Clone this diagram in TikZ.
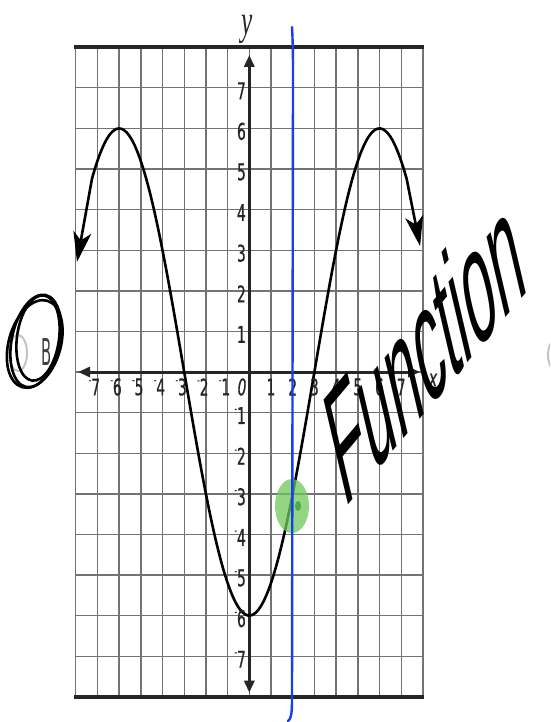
\documentclass[tikz,border=0pt]{standalone}
\usepackage{fontspec}
\usepackage{graphicx}
\usetikzlibrary{arrows.meta}
\newfontfamily\tickfont[FakeStretch=0.6,FakeBold=0.6]{DejaVu Sans}
\newfontfamily\radiofont[FakeStretch=0.4]{DejaVu Sans}
\newfontfamily\yfont[FakeStretch=0.6]{Liberation Serif}
\newfontfamily\handfont[FakeSlant=0.75,FakeStretch=0.6]{Liberation Sans}
\newcommand\nm{\raisebox{0.5em}{\scalebox{0.5}{-}}}
\definecolor{penblue}{RGB}{25,60,245}
\definecolor{blob}{RGB}{110,200,90}
\definecolor{blobdot}{RGB}{60,160,60}
\definecolor{gridc}{RGB}{115,115,115}
\definecolor{radio}{RGB}{195,195,195}
\tikzset{
  gridline/.style={draw=gridc, line width=1.4pt},
  border/.style={draw=black!85, line width=3.5pt},
  axisline/.style={draw=black!85, line width=3pt, {Triangle[length=12pt,width=10pt]}-{Triangle[length=12pt,width=10pt]}},
  curveline/.style={draw=black, line width=2.6pt, {Stealth[length=30pt,width=18pt,inset=8pt]}-{Stealth[length=30pt,width=18pt,inset=8pt]}},
  ticklab/.style={font=\tickfont\fontsize{23}{23}\selectfont, text=black!85, inner sep=0pt},
  ovalpen/.style={draw=black, line width=2.6pt},
  penline/.style={draw=penblue, line width=2.4pt, line cap=round},
}
\begin{document}
\begin{tikzpicture}[x=1pt,y=-1pt]
\useasboundingbox (0,0) rectangle (550,722);
\clip (0,0) rectangle (550,722);
\fill[white] (0,0) rectangle (550,722);

% graph in graph units
\begin{scope}[shift={(249.3,372)}, x=21.7pt, y=40.6pt]
  \foreach \i in {-8,...,8} \draw[gridline] (\i,-8) -- (\i,8);
  \foreach \j in {-7,...,7} \draw[gridline] (-8,\j) -- (8,\j);
  \draw[border] (-8.07,8) -- (8.07,8);
  \draw[border] (-8.07,-8) -- (8.07,-8);
  \coordinate (xl) at (-7.89,0);
  \coordinate (xr) at (7.87,0);
  \coordinate (yt) at (0,7.81);
  \coordinate (yb) at (0,-7.9);
  \draw[axisline] (xl) -- (xr);
  \draw[axisline] (yb) -- (yt);
  \coordinate (tipL) at (-7.94,2.71);
  \coordinate (tipR) at (7.87,3.1);
  \draw[curveline] (tipL) -- plot[domain=-7.25:7.25, samples=120, smooth] (\x,{-6*cos(30*\x)}) -- (tipR);
\end{scope}

% axis labels
\node[font=\yfont\itshape\fontsize{42}{42}\selectfont, text=black!85, anchor=base, inner sep=0pt] (ylab) at (247,35) {y};
\node[ticklab] (xlab) at (433,380) {\itshape x};
\foreach \i in {1,...,7} {
  \node[ticklab] (xp\i) at ({249.3+21.7*\i},387) {\i};
  \node[ticklab] (xn\i) at ({249.3-21.7*\i-3},387) {\nm\i};
  \node[ticklab, anchor=east] (yp\i) at (246,{372-40.6*\i+3}) {\i};
  \node[ticklab, anchor=east] (yn\i) at (246,{372+40.6*\i+3}) {\nm\i};
}
\node[ticklab] (x0) at (242,387) {\itshape 0};

% radio buttons
\draw[radio, line width=2pt] (18,353) ellipse [x radius=9, y radius=18];
\draw[radio, line width=2pt] (558,355) ellipse [x radius=10, y radius=17];
\node[font=\radiofont\fontsize{37}{37}\selectfont, text=black!75, inner sep=0pt] (bopt) at (47,352) {B};

% green highlight
\fill[blob, opacity=0.75] (292,506) ellipse [x radius=17, y radius=27];
\fill[blobdot, opacity=0.8] (298,506) ellipse [x radius=3, y radius=5];

% blue pen line
\coordinate (bt) at (292,27);
\coordinate (bb) at (288,721);
\draw[penline] (bt) .. controls (293,45) and (293,60) .. (293,80) -- (292,700) .. controls (292,714) and (291,719) .. (bb);

% handwriting
\node[font=\handfont\fontsize{125}{125}\selectfont, text=black, anchor=base west, rotate=50, inner sep=0pt] (fn) at (344,510) {Function};

% oval scribble
\draw[ovalpen, rotate around={-12:(36,340)}] (36,341) ellipse [x radius=24, y radius=47];
\draw[ovalpen, rotate around={-8:(38,338)}] (38,338) ellipse [x radius=21, y radius=43];
\draw[ovalpen, rotate around={-16:(35,343)}] (35,344) ellipse [x radius=26, y radius=45];
\end{tikzpicture}
\end{document}
